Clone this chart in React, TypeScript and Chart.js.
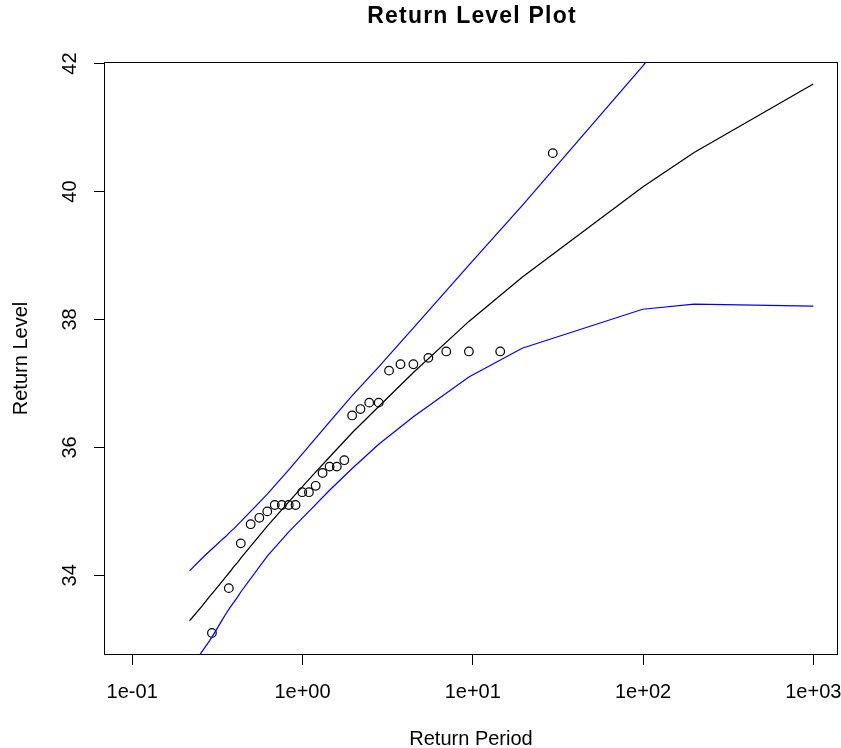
import React, { useEffect, useRef } from 'react';
import { Chart, registerables } from 'chart.js';

Chart.register(...registerables);

const TITLE = 'Return Level Plot';
const X_TITLE = 'Return Period';
const Y_TITLE = 'Return Level';

// observed data (empirical return periods, sorted levels)
const pointPeriods = [
  0.2940, 0.3693, 0.4343, 0.4963, 0.5581, 0.6213, 0.6872, 0.7565, 0.8306, 0.9102,
  0.9967, 1.0913, 1.1957, 1.3122, 1.4427, 1.5908, 1.7606, 1.9577, 2.1891, 2.4660,
  2.8035, 3.2237, 3.7636, 4.4814, 5.4848, 6.9882, 9.4912, 14.4928, 29.4992,
];
const pointLevels = [
  33.1, 33.8, 34.5, 34.8, 34.9, 35.0, 35.1, 35.1, 35.1, 35.1,
  35.3, 35.3, 35.4, 35.6, 35.7, 35.7, 35.8, 36.5, 36.6, 36.7,
  36.7, 37.2, 37.3, 37.3, 37.4, 37.5, 37.5, 37.5, 40.6,
];

// fitted return level curve and confidence band
const curvePeriods = [
  0.2171, 0.2556, 0.2852, 0.3107, 0.3338, 0.3554, 0.3760, 0.3959, 0.4153, 0.4343,
  0.6213, 0.8306, 1.0913, 1.4427, 1.9576, 2.8036, 4.4814, 9.4912, 19.496, 99.50,
  199.5, 999.5,
];
const estimate = [
  33.29, 33.51, 33.67, 33.79, 33.89, 33.98, 34.06, 34.14, 34.20, 34.27,
  34.77, 35.15, 35.50, 35.85, 36.23, 36.64, 37.17, 37.97, 38.66, 40.07,
  40.61, 41.68,
];
const upperCI = [
  34.07, 34.26, 34.38, 34.47, 34.55, 34.61, 34.68, 34.73, 34.79, 34.84,
  35.27, 35.65, 36.02, 36.40, 36.81, 37.26, 37.87, 38.85, 39.78, 41.96,
  42.98, 45.15,
];
const lowerCI = [
  32.51, 32.80, 32.98, 33.14, 33.28, 33.40, 33.50, 33.58, 33.66, 33.74,
  34.30, 34.68, 35.00, 35.33, 35.67, 36.05, 36.48, 37.10, 37.55, 38.16,
  38.24, 38.21,
];

const xTickValues = [0.1, 1, 10, 100, 1000];
const xTickLabels = ['1e-01', '1e+00', '1e+01', '1e+02', '1e+03'];
const yTickValues = [34, 36, 38, 40, 42];
const yTickLabels = ['34', '36', '38', '40', '42'];

const FONT = '"Liberation Sans", Arial, Helvetica, sans-serif';

const toXY = (xs: number[], ys: number[]) => xs.map((x, i) => ({ x, y: ys[i] }));

const framePlugin = {
  id: 'rlFrame',
  afterDraw(chart: any) {
    const { ctx, chartArea } = chart;
    const xScale = chart.scales.x;
    ctx.save();
    ctx.strokeStyle = '#000';
    ctx.lineWidth = 1;
    ctx.strokeRect(
      Math.round(chartArea.left) + 0.5,
      Math.round(chartArea.top) + 0.5,
      Math.round(chartArea.right - chartArea.left) - 1,
      Math.round(chartArea.bottom - chartArea.top) - 1
    );
    // x tick labels (drawn here so the last one may run past the canvas edge, as in the original)
    ctx.font = `20px ${FONT}`;
    ctx.fillStyle = '#000';
    ctx.textAlign = 'center';
    ctx.textBaseline = 'middle';
    xTickValues.forEach((v, i) => {
      ctx.fillText(xTickLabels[i], xScale.getPixelForValue(v), chartArea.bottom + 37);
    });
    // main title
    ctx.font = `bold 23px ${FONT}`;
    try {
      (ctx as any).letterSpacing = '1.2px';
    } catch (e) {}
    ctx.fillText(TITLE, (chartArea.left + chartArea.right) / 2 + 1, 17);
    ctx.restore();
  },
};

export default function App() {
  const canvasRef = useRef<HTMLCanvasElement | null>(null);

  useEffect(() => {
    if (!canvasRef.current) return;
    const chart = new Chart(canvasRef.current, {
      type: 'scatter',
      data: {
        datasets: [
          {
            label: 'upper',
            data: toXY(curvePeriods, upperCI),
            showLine: true,
            borderColor: '#0000ff',
            borderWidth: 1.25,
            pointRadius: 0,
            tension: 0,
          },
          {
            label: 'lower',
            data: toXY(curvePeriods, lowerCI),
            showLine: true,
            borderColor: '#0000ff',
            borderWidth: 1.25,
            pointRadius: 0,
            tension: 0,
          },
          {
            label: 'estimate',
            data: toXY(curvePeriods, estimate),
            showLine: true,
            borderColor: '#000000',
            borderWidth: 1.25,
            pointRadius: 0,
            tension: 0,
          },
          {
            label: 'observed',
            data: toXY(pointPeriods, pointLevels),
            showLine: false,
            borderColor: '#000000',
            backgroundColor: 'rgba(0,0,0,0)',
            borderWidth: 1.2,
            pointRadius: 4.3,
            pointStyle: 'circle',
          },
        ],
      },
      options: {
        animation: false,
        responsive: false,
        maintainAspectRatio: false,
        events: [],
        layout: { autoPadding: false, padding: { top: 62, right: 3, left: 0, bottom: 0 } },
        plugins: {
          legend: { display: false },
          tooltip: { enabled: false },
          title: { display: false },
        },
        scales: {
          x: {
            type: 'logarithmic',
            position: 'bottom',
            min: 0.0683,
            max: 1396,
            afterBuildTicks: (s: any) => {
              s.ticks = xTickValues.map((v) => ({ value: v }));
            },
            afterFit: (s: any) => {
              s.height = 93;
              s.paddingLeft = 0;
              s.paddingRight = 0;
            },
            ticks: {
              display: false,
              autoSkip: false,
              maxRotation: 0,
              minRotation: 0,
            },
            grid: {
              display: true,
              drawOnChartArea: false,
              drawTicks: true,
              tickLength: 10,
              tickColor: '#000',
              color: '#000',
            },
            border: { display: false },
            title: {
              display: true,
              text: X_TITLE,
              color: '#000',
              font: { family: FONT, size: 20, lineHeight: 1 },
              padding: { top: 0, bottom: -1 },
            },
          },
          y: {
            type: 'linear',
            position: 'left',
            min: 32.755,
            max: 42.025,
            afterBuildTicks: (s: any) => {
              s.ticks = yTickValues.map((v) => ({ value: v }));
            },
            afterFit: (s: any) => {
              s.width = 104;
              s.paddingTop = 0;
              s.paddingBottom = 0;
            },
            ticks: {
              autoSkip: false,
              minRotation: 90,
              maxRotation: 90,
              crossAlign: 'center',
              padding: 12,
              color: '#000',
              font: { family: FONT, size: 20 },
              callback: (_v: any, i: number) => yTickLabels[i],
            },
            grid: {
              display: true,
              drawOnChartArea: false,
              drawTicks: true,
              tickLength: 10,
              tickColor: '#000',
              color: '#000',
            },
            border: { display: false },
            title: {
              display: true,
              text: Y_TITLE,
              color: '#000',
              font: { family: FONT, size: 20, lineHeight: 1 },
              padding: { top: 11, bottom: 0 },
            },
          },
        },
      },
      plugins: [framePlugin],
    } as any);
    return () => chart.destroy();
  }, []);

  return (
    <div style={{ position: 'absolute', left: 0, top: 0, width: 841, height: 748, background: '#fff' }}>
      <canvas ref={canvasRef} width={841} height={748} style={{ display: 'block', width: 841, height: 748 }} />
    </div>
  );
}
